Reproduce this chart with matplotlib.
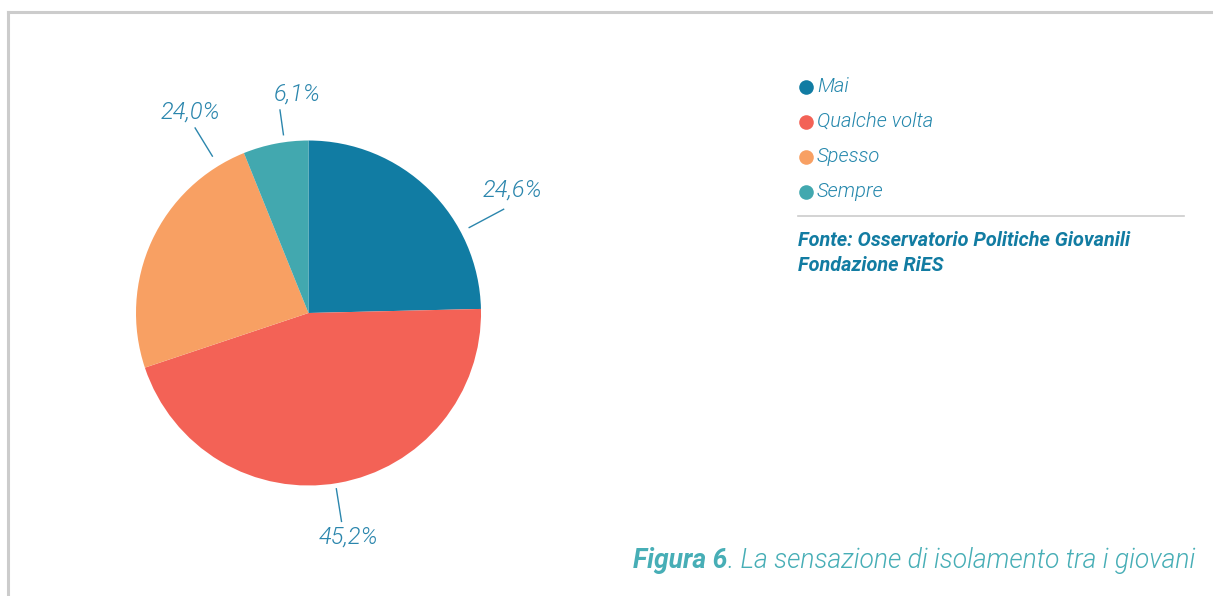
import numpy as np
import matplotlib
matplotlib.use('Agg')
import matplotlib.pyplot as plt
from matplotlib.lines import Line2D

# data
categories = ['Mai', 'Qualche volta', 'Spesso', 'Sempre']
values = [24.6, 45.2, 24.0, 6.1]
value_labels = ['24,6%', '45,2%', '24,0%', '6,1%']
colors = ['#117ca3', '#f36256', '#f8a063', '#42a8af']
source_lines = ['Fonte: Osservatorio Politiche Giovanili', 'Fondazione RiES']
caption_bold = 'Figura 6'
caption_rest = '. La sensazione di isolamento tra i giovani'

# layout of the label leaders (degrees, pixel radii)
leader_angle = [28, -81, 121.5, 98]
leader_r0 = [182, 178, 184, 180]
leader_r1 = [221, 211, 217, 205]
text_angle = [31, -79.8, 120.5, 93]
text_radius = [238, 228, 233, 219]

W, H = 1213, 596
plt.rcParams['font.family'] = ['Roboto', 'DejaVu Sans']
LIGHT = 300

fig = plt.figure(figsize=(W / 100, H / 100), dpi=100)
fig.patch.set_facecolor('white')


def px(x, y):
    return x / W, 1 - y / H


# grey frame (top and left)
fig.add_artist(Line2D([8 / W, 1], [1 - 12 / H] * 2, color='#cccccc', lw=2.2))
fig.add_artist(Line2D([8 / W] * 2, [1 - 12 / H, 0], color='#cccccc', lw=2.2))

# pie axes: 1 data unit = 1 pixel, centred on (308.5, 313)
cx, cy, r = 308.5, 313, 172.5
half = 250
ax = fig.add_axes([(cx - half) / W, (H - cy - half) / H, 2 * half / W, 2 * half / H])
ax.pie(values, colors=colors, radius=r, startangle=90, counterclock=False,
       wedgeprops=dict(linewidth=0, antialiased=True))
ax.set_xlim(-half, half)
ax.set_ylim(-half, half)
ax.set_aspect('equal')
ax.axis('off')

label_color = '#2b86ad'
for lab, a, r0, r1, ta, tr in zip(value_labels, leader_angle, leader_r0, leader_r1,
                                  text_angle, text_radius):
    t = np.deg2rad(a)
    ax.plot([r0 * np.cos(t), r1 * np.cos(t)], [r0 * np.sin(t), r1 * np.sin(t)],
            color=label_color, lw=1.0, clip_on=False)
    tt = np.deg2rad(ta)
    ax.text(tr * np.cos(tt), tr * np.sin(tt), lab, ha='center', va='center',
            fontsize=17, fontstyle='italic', fontweight=LIGHT, color=label_color,
            clip_on=False)

# legend
for i, (cat, col) in enumerate(zip(categories, colors)):
    y = 86.5 + 35 * i
    fig.add_artist(Line2D([805.5 / W], [1 - y / H], marker='o', markersize=10.5,
                          color=col, markeredgewidth=0, linestyle='none'))
    fig.text(*px(817, y), cat, ha='left', va='center', fontsize=14.5,
             fontstyle='italic', fontweight=LIGHT, color='#2487ac')

# separator
fig.add_artist(Line2D([798 / W, 1184 / W], [1 - 216 / H] * 2, color='#cccccc', lw=1.2))

# source
for i, line in enumerate(source_lines):
    fig.text(*px(798, 241 + 24 * i), line, ha='left', va='center', fontsize=14.3,
             fontstyle='italic', fontweight='bold', color='#127ca2')

# caption, right aligned
cap = fig.text(*px(1195, 560), caption_rest, ha='right', va='center', fontsize=19.1,
               fontstyle='italic', fontweight=LIGHT, color='#47aeb6')
renderer = fig.canvas.get_renderer()
bb = cap.get_window_extent(renderer)
fig.text(bb.x0 / W, 1 - 560 / H, caption_bold, ha='right', va='center', fontsize=19.1,
         fontstyle='italic', fontweight='bold', color='#47aeb6')

plt.savefig('out.png', dpi=100)
